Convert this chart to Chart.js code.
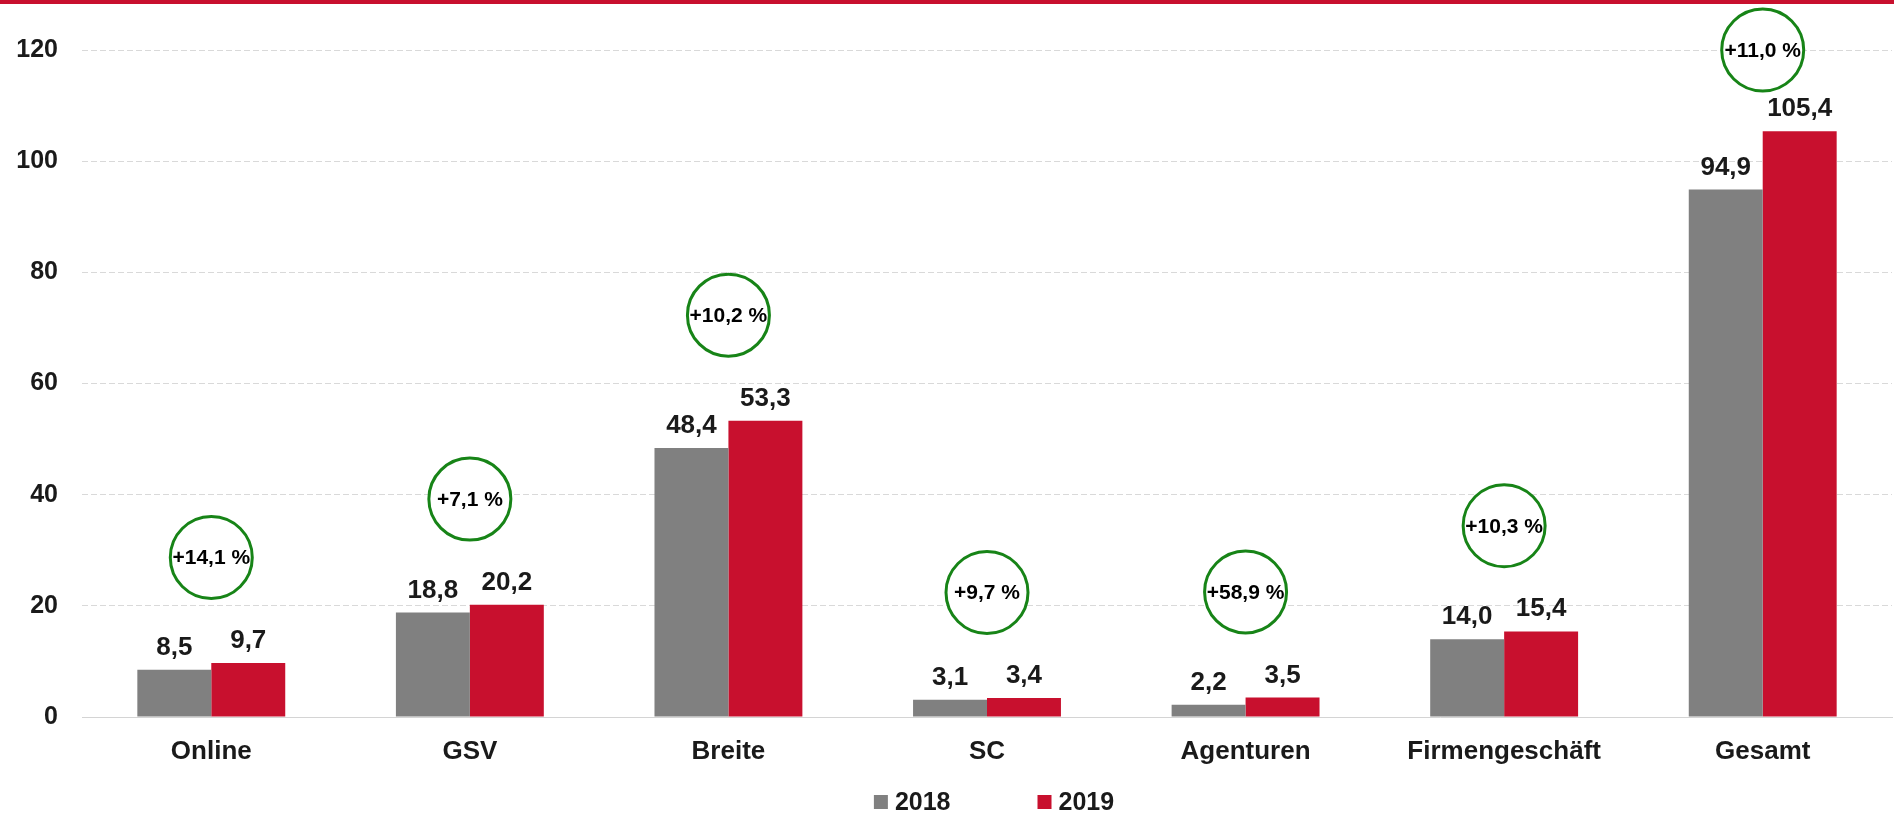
<!DOCTYPE html>
<html lang="de">
<head>
<meta charset="utf-8">
<title>2018 / 2019</title>
<script src="https://cdn.jsdelivr.net/npm/chart.js@4.4.1/dist/chart.umd.min.js"></script>
<style>
  html, body { margin: 0; padding: 0; background: #fff; }
  #wrap { position: relative; width: 1894px; height: 813px; }
  #topbar { position: absolute; left: 0; top: 0; width: 100%; height: 4px; background: #c8102e; }
</style>
</head>
<body>
<div id="wrap">
  <canvas id="chart" width="1894" height="813"></canvas>
  <div id="topbar"></div>
</div>
<script>
// Kategorien und Werte
const categories = ['Online', 'GSV', 'Breite', 'SC', 'Agenturen', 'Firmengeschäft', 'Gesamt'];
const values2018 = [8.5, 18.8, 48.4, 3.1, 2.2, 14.0, 94.9];
const values2019 = [9.7, 20.2, 53.3, 3.4, 3.5, 15.4, 105.4];
const growthLabels = ['+14,1 %', '+7,1 %', '+10,2 %', '+9,7 %', '+58,9 %', '+10,3 %', '+11,0 %'];
const yTicks = [0, 20, 40, 60, 80, 100, 120];

const FONT = '"Liberation Sans", Arial, sans-serif';
const TEXT = '#1a1a1a';
const GRAY = '#808080';
const RED = '#c8102e';
const GREEN = '#178417';

const yMax = yTicks[yTicks.length - 1];

function fmt(v) {
  return v.toFixed(1).replace('.', ',');
}

// Werte über den Balken + grüne Kreise
const labelPlugin = {
  id: 'valueLabels',
  afterDatasetsDraw(chart) {
    const ctx = chart.ctx;
    const xs = chart.scales.x;
    const ys = chart.scales.y;
    ctx.save();
    ctx.font = 'bold 26px ' + FONT;
    ctx.fillStyle = TEXT;
    ctx.textAlign = 'center';
    ctx.textBaseline = 'alphabetic';
    chart.data.datasets.forEach((ds, di) => {
      chart.getDatasetMeta(di).data.forEach((bar, i) => {
        ctx.fillText(fmt(ds.data[i]), bar.x, bar.y - 15);
      });
    });

    // Kreise sitzen etwas oberhalb des höheren Balkens
    growthLabels.forEach((txt, i) => {
      const top = Math.min(Math.max(values2018[i], values2019[i]) + 19, yMax);
      const cx = xs.getPixelForValue(i);
      const cy = ys.getPixelForValue(top);
      ctx.beginPath();
      ctx.arc(cx, cy, 41, 0, Math.PI * 2);
      ctx.fillStyle = '#fff';
      ctx.fill();
      ctx.lineWidth = 3;
      ctx.strokeStyle = GREEN;
      ctx.stroke();
      ctx.font = 'bold 21px ' + FONT;
      ctx.fillStyle = '#000';
      ctx.textBaseline = 'middle';
      ctx.fillText(txt, cx, cy + 1);
    });
    ctx.restore();
  }
};

// Legende unten, selbst gezeichnet
const legendPlugin = {
  id: 'bottomLegend',
  afterDraw(chart) {
    const ctx = chart.ctx;
    const area = chart.chartArea;
    const y = 802;
    const box = 14;
    const gap = 87;
    ctx.save();
    ctx.font = 'bold 25px ' + FONT;
    ctx.textBaseline = 'middle';
    ctx.textAlign = 'left';
    const items = chart.data.datasets.map(ds => ({
      label: ds.label,
      color: ds.backgroundColor,
      w: box + 7 + ctx.measureText(ds.label).width
    }));
    const total = items.reduce((s, it) => s + it.w, 0) + gap * (items.length - 1);
    let x = (area.left + area.right) / 2 + 7 - total / 2;
    items.forEach(it => {
      ctx.fillStyle = it.color;
      ctx.fillRect(x, y - box / 2, box, box);
      ctx.fillStyle = TEXT;
      ctx.fillText(it.label, x + box + 7, y + 1);
      x += it.w + gap;
    });
    ctx.restore();
  }
};

new Chart(document.getElementById('chart'), {
  type: 'bar',
  data: {
    labels: categories,
    datasets: [
      { label: '2018', data: values2018, backgroundColor: GRAY },
      { label: '2019', data: values2019, backgroundColor: RED }
    ]
  },
  options: {
    responsive: false,
    animation: false,
    layout: { padding: { top: 50, right: 2, bottom: 36, left: 0 } },
    datasets: {
      bar: { categoryPercentage: 0.572, barPercentage: 1.0 }
    },
    plugins: {
      legend: { display: false },
      tooltip: { enabled: false }
    },
    scales: {
      x: {
        grid: { display: false },
        border: { display: true, color: '#d4d4d4', width: 1 },
        ticks: {
          color: TEXT,
          padding: 11,
          font: { family: FONT, size: 26, weight: 'bold' }
        },
        afterFit(scale) { scale.height = 60; }
      },
      y: {
        min: 0,
        max: yMax,
        afterBuildTicks(scale) {
          scale.ticks = yTicks.map(v => ({ value: v }));
        },
        grid: { color: '#d9d9d9', lineWidth: 1, drawTicks: false },
        border: { display: false, dash: [6, 3] },
        ticks: {
          color: TEXT,
          padding: 24,
          font: { family: FONT, size: 25, weight: 'bold' }
        },
        afterFit(scale) { scale.width = 82; }
      }
    }
  },
  plugins: [labelPlugin, legendPlugin]
});
</script>
</body>
</html>
